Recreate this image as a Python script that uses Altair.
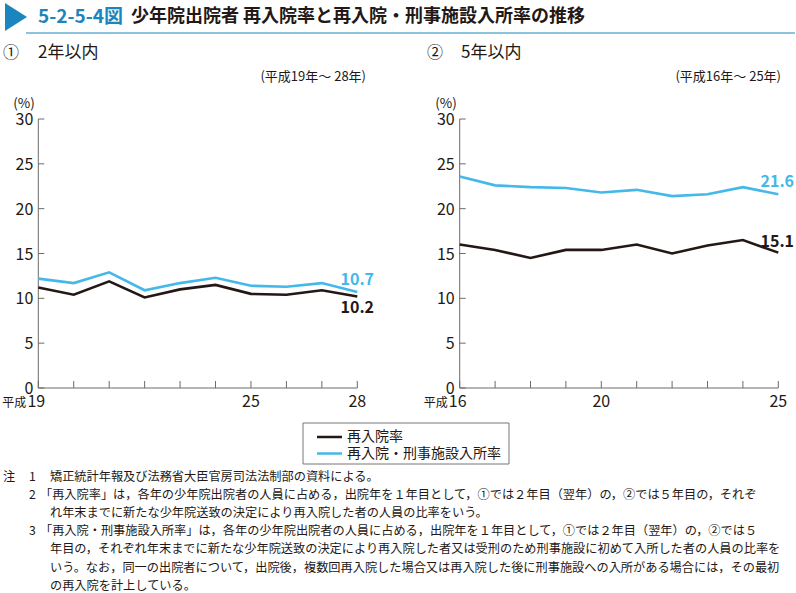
import altair as alt
import pandas as pd

# ---------------- data ----------------
series_names = ["再入院率", "再入院・刑事施設入所率"]

years_2 = [19, 20, 21, 22, 23, 24, 25, 26, 27, 28]          # 平成19〜28年
reentry_2 = [11.2, 10.4, 11.9, 10.1, 11.0, 11.5, 10.5, 10.4, 10.9, 10.2]
reentry_prison_2 = [12.2, 11.7, 12.9, 10.9, 11.7, 12.3, 11.4, 11.3, 11.7, 10.7]

years_5 = [16, 17, 18, 19, 20, 21, 22, 23, 24, 25]          # 平成16〜25年
reentry_5 = [16.0, 15.4, 14.5, 15.4, 15.4, 16.0, 15.0, 15.9, 16.5, 15.1]
reentry_prison_5 = [23.6, 22.6, 22.4, 22.3, 21.8, 22.1, 21.4, 21.6, 22.4, 21.6]

y_tick_values = [0, 5, 10, 15, 20, 25, 30]
era_prefix = "平成"
x_label_years_2 = [19, 25, 28]
x_label_years_5 = [16, 20, 25]

title_num = "5-2-5-4図"
title_text = "少年院出院者 再入院率と再入院・刑事施設入所率の推移"
panel_titles = [("①", "2年以内", "(平成19年～ 28年)"), ("②", "5年以内", "(平成16年～ 25年)")]

notes = [
    ("注", "1", "矯正統計年報及び法務省大臣官房司法法制部の資料による。"),
    ("", "2", "「再入院率」は，各年の少年院出院者の人員に占める，出院年を１年目として，①では２年目（翌年）の，②では５年目の，それぞ"),
    ("", "", "れ年末までに新たな少年院送致の決定により再入院した者の人員の比率をいう。"),
    ("", "3", "「再入院・刑事施設入所率」は，各年の少年院出院者の人員に占める，出院年を１年目として，①では２年目（翌年）の，②では５"),
    ("", "", "年目の，それぞれ年末までに新たな少年院送致の決定により再入院した者又は受刑のため刑事施設に初めて入所した者の人員の比率を"),
    ("", "", "いう。なお，同一の出院者について，出院後，複数回再入院した場合又は再入院した後に刑事施設への入所がある場合には，その最初"),
    ("", "", "の再入院を計上している。"),
]

# ---------------- style ----------------
FONT = "Noto Sans CJK JP"
INK = "#231815"
BLUE_LINE = "#45b8ea"
BLUE_TITLE = "#1a86bd"
AXIS_GRAY = "#6b6b6b"
W, H = 796, 593
HALF = 398
Y_TOP, Y_BOT = 119, 388

one = pd.DataFrame({"a": [0]})
color_scale = alt.Scale(domain=series_names, range=[INK, BLUE_LINE])


def txt(x, y, s, size=13, weight="normal", color=INK, align="left", baseline="middle"):
    return alt.Chart(one).mark_text(
        text=s, font=FONT, fontSize=size, fontWeight=weight, color=color,
        align=align, baseline=baseline,
    ).encode(x=alt.value(x), y=alt.value(y))


def panel(years, s1, s2, x_range, lab_years, end1_off, end2_off):
    df = pd.DataFrame({
        "year": years + years,
        "series": [series_names[0]] * len(years) + [series_names[1]] * len(years),
        "value": s1 + s2,
    })
    xs = alt.Scale(domain=[years[0], years[-1]], range=x_range, nice=False, zero=False)
    ys = alt.Scale(domain=[0, 30], range=[Y_BOT, Y_TOP], nice=False, zero=False)
    X = lambda f: alt.X(f, scale=xs, axis=None)
    Y = lambda f: alt.Y(f, scale=ys, axis=None)

    lines = alt.Chart(df).mark_line(strokeWidth=2.6, strokeJoin="miter").encode(
        x=X("year:Q"), y=Y("value:Q"),
        color=alt.Color("series:N", scale=color_scale, legend=None),
        order=alt.Order("year:Q"),
    )

    ydom = pd.DataFrame({"lo": [y_tick_values[0]], "hi": [y_tick_values[-1]]})
    yaxis = alt.Chart(ydom).mark_rule(color=AXIS_GRAY, strokeWidth=1).encode(
        x=alt.value(x_range[0]), y=Y("lo:Q"), y2="hi:Q",
    )
    xdom = pd.DataFrame({"lo": [years[0]], "hi": [years[-1]]})
    xaxis = alt.Chart(xdom).mark_rule(color=AXIS_GRAY, strokeWidth=1).encode(
        x=X("lo:Q"), x2="hi:Q", y=alt.value(Y_BOT),
    )
    yt = pd.DataFrame({"v": y_tick_values})
    yticks = alt.Chart(yt).mark_rule(color=AXIS_GRAY, strokeWidth=1).encode(
        y=Y("v:Q"), x=alt.value(x_range[0]), x2=alt.value(x_range[0] + 6),
    )
    ylabels = alt.Chart(yt).mark_text(
        font=FONT, fontSize=16, color=INK, align="right", baseline="middle", dy=1,
    ).encode(y=Y("v:Q"), x=alt.value(x_range[0] - 5), text=alt.Text("v:Q", format="d"))
    xt = pd.DataFrame({"yr": years})
    xticks = alt.Chart(xt).mark_rule(color=AXIS_GRAY, strokeWidth=1).encode(
        x=X("yr:Q"), y=alt.value(Y_BOT - 7), y2=alt.value(Y_BOT),
    )
    first = pd.DataFrame({"yr": lab_years[:1]})
    rest = pd.DataFrame({"yr": lab_years[1:]})
    xl_first = alt.Chart(first).mark_text(
        font=FONT, fontSize=16, color=INK, align="center", baseline="middle", dx=-2,
    ).encode(x=X("yr:Q"), y=alt.value(402), text=alt.Text("yr:Q", format="d"))
    xl_prefix = alt.Chart(first).mark_text(
        text=era_prefix, font=FONT, fontSize=12, color=INK, align="right",
        baseline="middle", dx=-12, dy=0.5,
    ).encode(x=X("yr:Q"), y=alt.value(402))
    xl_rest = alt.Chart(rest).mark_text(
        font=FONT, fontSize=16, color=INK, align="center", baseline="middle",
    ).encode(x=X("yr:Q"), y=alt.value(402), text=alt.Text("yr:Q", format="d"))

    e1 = pd.DataFrame({"year": [years[-1]], "value": [s1[-1]]})
    e2 = pd.DataFrame({"year": [years[-1]], "value": [s2[-1]]})
    end1 = alt.Chart(e1).mark_text(
        font=FONT, fontSize=16, fontWeight="bold", color=INK, align="center",
        baseline="middle", dx=end1_off[0], dy=end1_off[1],
    ).encode(x=X("year:Q"), y=Y("value:Q"), text=alt.Text("value:Q", format=".1f"))
    end2 = alt.Chart(e2).mark_text(
        font=FONT, fontSize=16, fontWeight="bold", color=BLUE_LINE, align="center",
        baseline="middle", dx=end2_off[0], dy=end2_off[1],
    ).encode(x=X("year:Q"), y=Y("value:Q"), text=alt.Text("value:Q", format=".1f"))
    return [yaxis, xaxis, yticks, xticks, ylabels, xl_first, xl_prefix, xl_rest,
            lines, end1, end2]


left_panel = panel(years_2, reentry_2, reentry_prison_2, [38.3, 357.3],
                   x_label_years_2, (0, 11), (0, -12))
right_panel = panel(years_5, reentry_5, reentry_prison_5, [459.7 - HALF, 778.3 - HALF],
                    x_label_years_5, (-1, -11), (-1, -12))

# ---------------- header ----------------
tri = alt.Chart(one).mark_point(
    shape="M-1,-1.27L1,0L-1,1.27Z", size=484, filled=True, color=BLUE_TITLE, opacity=1,
).encode(x=alt.value(16), y=alt.value(17))
underline = alt.Chart(one).mark_rule(color=BLUE_TITLE, strokeWidth=1).encode(
    x=alt.value(26), x2=alt.value(W - 1), y=alt.value(33),
)
left_header = [
    tri, underline,
    txt(38, 17, title_num, 19, "bold", BLUE_TITLE),
    txt(131, 17, title_text, 18, "bold"),
    txt(3, 53, panel_titles[0][0], 16),
    txt(38, 53, panel_titles[0][1], 17),
    txt(366, 77, panel_titles[0][2], 13, align="right"),
    txt(24, 103.5, "(%)", 13.5, align="center"),
]
right_header = [
    txt(427 - HALF, 53, panel_titles[1][0], 16),
    txt(461 - HALF, 53, panel_titles[1][1], 17),
    txt(781 - HALF, 77, panel_titles[1][2], 13, align="right"),
    txt(446 - HALF, 103.5, "(%)", 13.5, align="center"),
]

# ---------------- legend (drawn with the colour scale) ----------------
legend_layers = [
    alt.Chart(one).mark_rect(filled=False, stroke="#777777", strokeWidth=1).encode(
        x=alt.value(303), x2=alt.value(509), y=alt.value(423), y2=alt.value(464),
    )
]
for i, name in enumerate(series_names):
    ly = 437 + i * 16.5
    ldf = pd.DataFrame({"series": [name]})
    legend_layers.append(
        alt.Chart(ldf).mark_rule(strokeWidth=2.5).encode(
            x=alt.value(317), x2=alt.value(342), y=alt.value(ly),
            color=alt.Color("series:N", scale=color_scale, legend=None),
        )
    )
    legend_layers.append(
        alt.Chart(ldf).mark_text(
            font=FONT, fontSize=14, color=INK, align="left", baseline="middle",
        ).encode(x=alt.value(347), y=alt.value(ly), text="series:N")
    )

# ---------------- notes ----------------
note_layers = []
y0, dy = 477, 18.1
NFS = 12.2
for i, (a, n, t) in enumerate(notes):
    y = y0 + i * dy
    if a:
        note_layers.append(txt(3, y, a, NFS))
    if n:
        note_layers.append(txt(29, y, n, NFS))
        tx = 50 if t[0] != "「" else 40
    else:
        tx = 50
    note_layers.append(txt(tx, y, t, NFS))

left_view = alt.layer(*left_header, *left_panel, *legend_layers, *note_layers).properties(
    width=HALF, height=H)
right_view = alt.layer(*right_header, *right_panel).properties(width=W - HALF, height=H)

chart = alt.hconcat(left_view, right_view, spacing=0, bounds="flush").properties(
    padding=0, background="white",
).configure_view(stroke=None)

chart.save("out.html", embed_options={"renderer": "svg", "actions": False})
